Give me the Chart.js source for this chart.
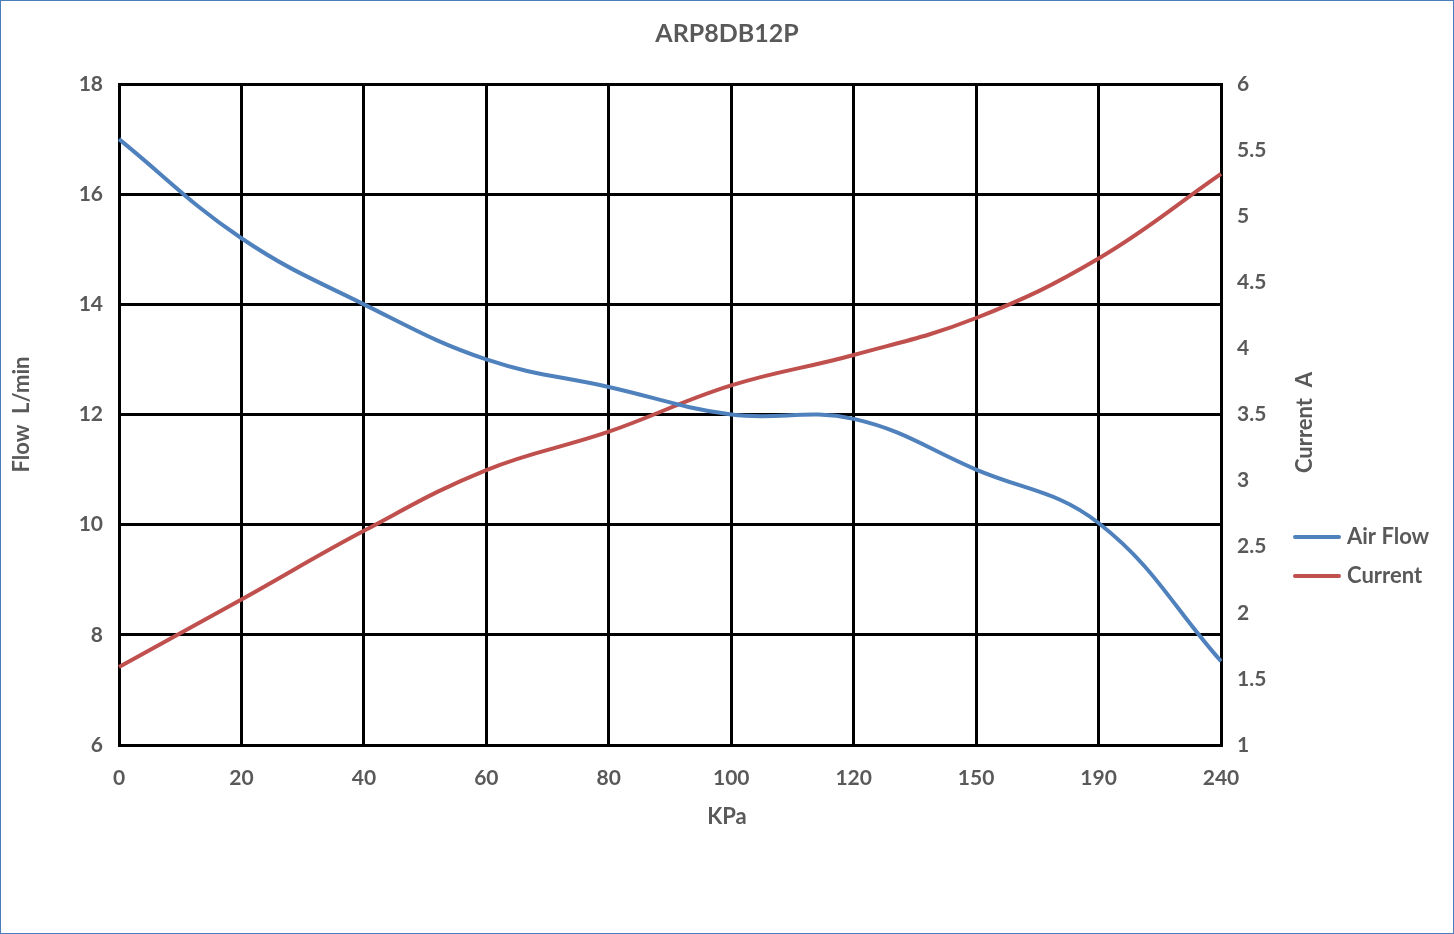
<!DOCTYPE html>
<html>
<head>
<meta charset="utf-8">
<script src="https://cdn.jsdelivr.net/npm/chart.js@4.4.0/dist/chart.umd.min.js"></script>
<style>
  html, body { margin: 0; padding: 0; background: #fff; }
  #wrap { width: 1452px; height: 932px; border: 1px solid #4a7ebb; position: relative; }
</style>
</head>
<body>
<div id="wrap"><canvas id="pumpChart" width="1452" height="932"></canvas></div>
<script>
// pressure points (category axis, evenly spaced like the original)
const pressure = ['0', '20', '40', '60', '80', '100', '120', '150', '190', '240'];
const airFlow = [17, 15.2, 14, 13, 12.5, 12, 11.92, 11, 10.03, 7.52];
const current = [1.59, 2.1, 2.62, 3.08, 3.37, 3.72, 3.95, 4.23, 4.68, 5.32];

const flowTicks = [6, 8, 10, 12, 14, 16, 18];
const currentTicks = [1, 1.5, 2, 2.5, 3, 3.5, 4, 4.5, 5, 5.5, 6];

const textGrey = '#595959';
const fontFam = 'Lato, "Open Sans", sans-serif';

// x title centred on the whole picture, right axis title (bottom-to-top) and legend
const sideLegend = {
    id: 'sideLegend',
    afterDraw(chart) {
        const ctx = chart.ctx;
        const area = chart.chartArea;
        ctx.save();

        ctx.fillStyle = textGrey;
        ctx.font = 'bold 22px ' + fontFam;
        ctx.textAlign = 'center';
        ctx.textBaseline = 'middle';
        ctx.fillText('KPa', chart.width / 2, area.bottom + 72);

        ctx.translate(area.right + 84, (area.top + area.bottom) / 2 + 8);
        ctx.rotate(-Math.PI / 2);
        ctx.fillText('Current  A', 0, 0);
        ctx.setTransform(1, 0, 0, 1, 0, 0);

        ctx.textAlign = 'left';
        chart.data.datasets.forEach((ds, i) => {
            const y = area.bottom - 208 + i * 39;
            const x = area.right + 74;
            ctx.strokeStyle = ds.borderColor;
            ctx.lineWidth = 4;
            ctx.lineCap = 'round';
            ctx.beginPath();
            ctx.moveTo(x, y);
            ctx.lineTo(x + 44, y);
            ctx.stroke();
            ctx.fillStyle = textGrey;
            ctx.fillText(ds.label, x + 52, y);
        });
        ctx.restore();
    }
};

const ctx = document.getElementById('pumpChart').getContext('2d');
const myChart = new Chart(ctx, {
    type: 'line',
    data: {
        labels: pressure,
        datasets: [{
            label: 'Air Flow',
            data: airFlow,
            yAxisID: 'y',
            borderColor: '#4f81bd',
            borderWidth: 4,
            pointRadius: 0,
            tension: 0.4,
            fill: false
        }, {
            label: 'Current',
            data: current,
            yAxisID: 'y1',
            borderColor: '#c0504d',
            borderWidth: 4,
            pointRadius: 0,
            tension: 0.4,
            fill: false
        }]
    },
    options: {
        responsive: false,
        animation: false,
        layout: {
            padding: { left: 0, right: 0, top: 0, bottom: 88 }
        },
        plugins: {
            legend: { display: false },
            tooltip: { enabled: false },
            title: {
                display: true,
                text: 'ARP8DB12P',
                color: textGrey,
                font: { family: fontFam, size: 25, weight: 'bold' },
                padding: { top: 18, bottom: 35 }
            }
        },
        scales: {
            x: {
                type: 'category',
                offset: false,
                afterFit: (scale) => { scale.height = 100; },
                grid: { color: '#000', lineWidth: 3, drawTicks: false },
                border: { color: '#000', width: 3 },
                ticks: {
                    color: textGrey,
                    font: { family: fontFam, size: 21, weight: 'bold' },
                    padding: 21,
                    maxRotation: 0
                }
            },
            y: {
                position: 'left',
                min: flowTicks[0],
                max: flowTicks[flowTicks.length - 1],
                afterBuildTicks: (axis) => { axis.ticks = flowTicks.map(v => ({ value: v })); },
                afterFit: (scale) => { scale.width = 118; },
                grid: { color: '#000', lineWidth: 3, drawTicks: false },
                border: { color: '#000', width: 3 },
                ticks: {
                    color: textGrey,
                    font: { family: fontFam, size: 21, weight: 'bold' },
                    padding: 16
                },
                title: {
                    display: true,
                    text: 'Flow  L/min',
                    color: textGrey,
                    font: { family: fontFam, size: 22, weight: 'bold' },
                    padding: { top: 8, bottom: 4 }
                }
            },
            y1: {
                position: 'right',
                min: currentTicks[0],
                max: currentTicks[currentTicks.length - 1],
                afterBuildTicks: (axis) => { axis.ticks = currentTicks.map(v => ({ value: v })); },
                afterFit: (scale) => { scale.width = 232; },
                grid: { drawOnChartArea: false, drawTicks: false },
                border: { color: '#000', width: 3 },
                ticks: {
                    color: textGrey,
                    font: { family: fontFam, size: 21, weight: 'bold' },
                    padding: 16,
                    callback: (v) => String(v)
                }
            }
        }
    },
    plugins: [sideLegend]
});
</script>
</body>
</html>
